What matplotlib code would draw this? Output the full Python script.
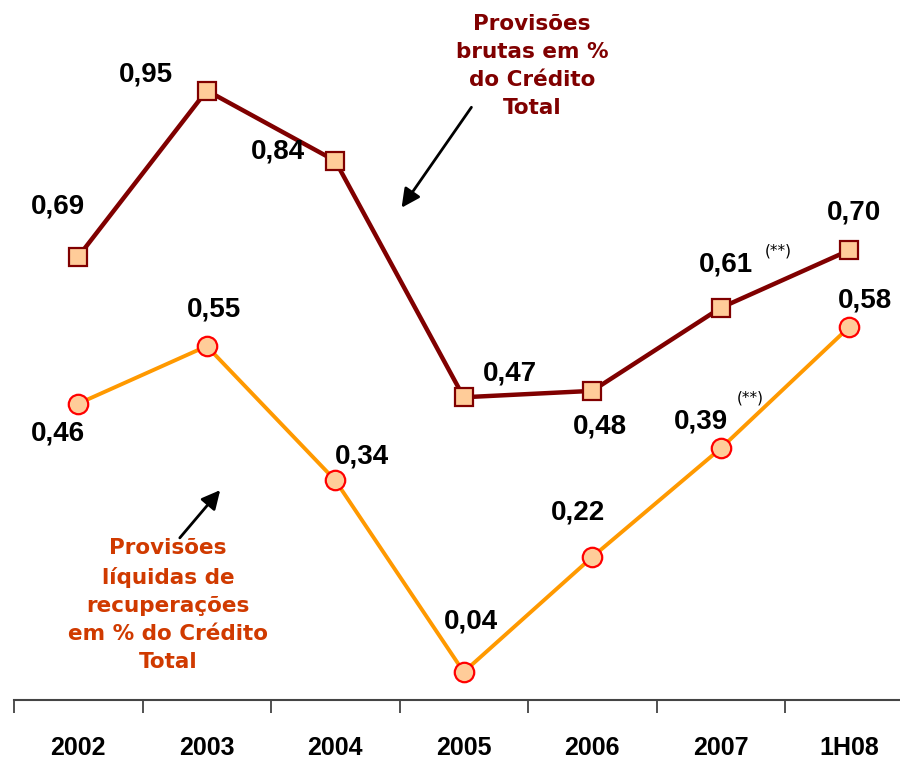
import matplotlib
matplotlib.use("Agg")
import matplotlib.pyplot as plt

categories = ["2002", "2003", "2004", "2005", "2006", "2007", "1H08"]
brutas = [0.69, 0.95, 0.84, 0.47, 0.48, 0.61, 0.70]
liquidas = [0.46, 0.55, 0.34, 0.04, 0.22, 0.39, 0.58]
brutas_labels = ["0,69", "0,95", "0,84", "0,47", "0,48", "0,61", "0,70"]
liquidas_labels = ["0,46", "0,55", "0,34", "0,04", "0,22", "0,39", "0,58"]

W, H = 900, 759
fig = plt.figure(figsize=(W / 100, H / 100), dpi=100)
# axes: left 14px, bottom at 700px from top, top at 0
ax = fig.add_axes([14 / W, (H - 700) / H, 899.5 / W, 700 / H])
ax.set_xlim(-0.5, 6.5)
ax.set_ylim(-0.0038, 1.0917)

DARK = "#800000"
ORANGE = "#FF9900"
FILL = "#FFCC99"

x = list(range(len(categories)))
ax.plot(x, brutas, color=DARK, lw=3.2, marker="s", ms=13, mfc=FILL,
        mec=DARK, mew=1.6, zorder=3, clip_on=False)
ax.plot(x, liquidas, color=ORANGE, lw=2.8, marker="o", ms=14, mfc=FILL,
        mec="#FF0000", mew=1.6, zorder=3, clip_on=False)

lab_font = dict(fontsize=20, fontweight="bold", color="black",
                family=["Liberation Sans", "DejaVu Sans"], ha="center", va="center")
b_off = [(-20, 50), (-61, 16), (-57, 9), (46, 24), (8, -36), (5, 43), (5, 38)]
l_off = [(-20, -30), (7, 37), (27, 24), (7, 51), (-14, 44), (-20, 27), (16, 26)]
for xi, v, t, o in zip(x, brutas, brutas_labels, b_off):
    ax.annotate(t, (xi, v), xytext=o, textcoords="offset pixels", **lab_font)
for xi, v, t, o in zip(x, liquidas, liquidas_labels, l_off):
    ax.annotate(t, (xi, v), xytext=o, textcoords="offset pixels", **lab_font)

# superscripts (**)
ax.annotate("(**)", (5, brutas[5]), xytext=(58, 57), textcoords="offset pixels",
            fontsize=11, ha="center", va="center")
ax.annotate("(**)", (5, liquidas[5]), xytext=(29, 50), textcoords="offset pixels",
            fontsize=11, ha="center", va="center")

def fpx(px, py):
    return (px / W, 1 - py / H)

fig.text(*fpx(532, 66), "Provisões\nbrutas em %\ndo Crédito\nTotal",
         ha="center", va="center", fontsize=15.5, fontweight="bold",
         color=DARK, linespacing=1.5)
fig.text(*fpx(168, 605), "Provisões\nlíquidas de\nrecuperações\nem % do Crédito\nTotal",
         ha="center", va="center", fontsize=15.5, fontweight="bold",
         color="#D03A00", linespacing=1.5)

arrow = dict(arrowstyle="-|>", color="black", lw=2, mutation_scale=28)
fig.add_artist(matplotlib.patches.FancyArrowPatch(
    fpx(473, 105), fpx(400, 210), transform=fig.transFigure, **arrow))
fig.add_artist(matplotlib.patches.FancyArrowPatch(
    fpx(178, 540), fpx(222, 488), transform=fig.transFigure, **arrow))

# axes styling
for s in ["top", "right", "left"]:
    ax.spines[s].set_visible(False)
ax.spines["bottom"].set_color("#444444")
ax.spines["bottom"].set_linewidth(1.5)
ax.set_yticks([])
ax.set_xticks(x)
ax.set_xticklabels(categories, fontsize=18, fontweight="bold",
                   family=["Liberation Sans", "DejaVu Sans"])
ax.tick_params(axis="x", which="major", length=0, pad=26)
ax.set_xticks([i - 0.5 for i in range(len(categories) + 1)], minor=True)
ax.tick_params(axis="x", which="minor", length=9, width=1.2, color="#333333",
               direction="out")

fig.savefig("out.png", dpi=100)
